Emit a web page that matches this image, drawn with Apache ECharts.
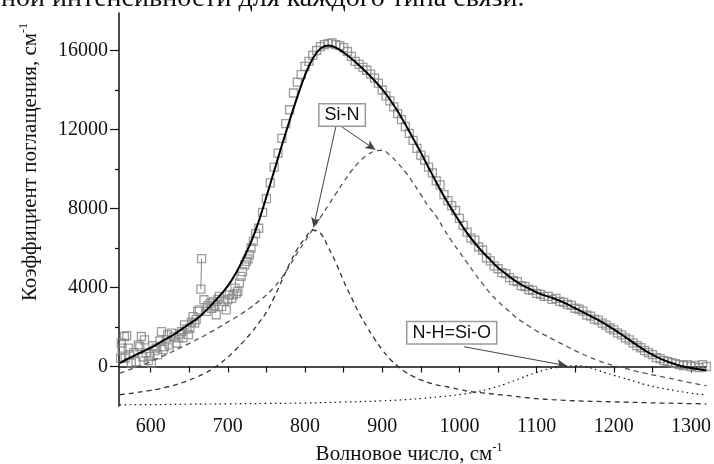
<!DOCTYPE html>
<html><head><meta charset="utf-8">
<script src="https://cdn.jsdelivr.net/npm/echarts@6/dist/echarts.min.js"></script>
<style>html,body{margin:0;padding:0;background:#fff}#c{width:714px;height:464px}</style>
</head><body><div id="c"></div>
<script>
// ---- axis ticks ----
const xLabelVals = [600, 700, 800, 900, 1000, 1100, 1200, 1300];
const xTickVals = [600, 650, 700, 750, 800, 850, 900, 950, 1000, 1050, 1100, 1150, 1200, 1250, 1300];
const yLabelVals = [0, 4000, 8000, 12000, 16000];
const yMinorVals = [2000, 6000, 10000, 14000];

// ---- measured points (open squares) ----
const measX = [561,562,563,566,567,569,571,573,575,578,581,584,586,588,590,592,594,597,599,601,603,605,607,609,612,614,616,618,620,622,624,627,630,633,636,638,640,642,644,647,649,651,653,655,657,659,661,663,665,666,669,672,674,677,679,681,683,685,687,689,692,695,698,700,702,705,707,709,711,713,715,717,719,722,724,726,728,730,733,736,
740,745,750,755,760,765,770,775,780,785,790,795,800,805,810,815,820,825,830,835,840,845,850,855,860,865,870,875,880,885,890,895,900,905,910,915,920,925,930,935,940,945,950,955,960,965,970,975,980,985,990,995,1000,1005,1010,1015,1020,1025,1030,1035,1040,1045,1050,1055,1060,1065,1070,1075,1080,1085,1090,1095,1100,1105,1110,1115,1120,1125,1130,1135,1140,1145,1150,1155,1160,1165,1170,1175,1180,1185,1190,1195,1200,1205,1210,1215,1220,1225,1230,1235,1240,1245,1250,1255,1260,1265,1270,1275,1280,1285,1290,1295,1300,1305,1310,1315,1320];
const measY = [420,1190,930,1520,430,1560,930,600,170,700,250,1100,1010,1520,480,1350,680,300,510,170,1050,800,930,590,1300,1770,850,1010,1350,1600,1100,1690,1500,1190,1450,1650,1770,1450,2110,1900,1610,1950,2250,2530,2200,2370,2790,2870,3920,5460,3380,2790,3080,3200,2950,3290,3100,2620,3400,3550,3040,3300,2870,3380,3630,3450,3630,3970,3700,3800,4230,4560,4800,5150,5320,5450,5660,6000,6340,6730,
7000,7800,8500,9300,10100,10800,11550,12300,13000,13850,14400,14780,15200,15450,15750,16000,16200,16300,16350,16380,16300,16250,16150,15950,15700,15450,15300,15150,15000,14800,14600,14350,14000,13700,13450,13150,12800,12500,12150,11800,11450,11050,10700,10450,10100,9800,9400,9200,8700,8400,8150,7900,7500,7150,6800,6500,6400,6050,5900,5500,5350,5100,4950,4750,4700,4500,4350,4300,4100,4050,3900,3850,3700,3650,3550,3550,3400,3450,3300,3250,3150,3100,2950,2900,2800,2600,2550,2400,2350,2200,2100,1950,1850,1700,1600,1450,1350,1200,1050,950,800,700,600,450,400,300,250,200,150,100,50,100,0,50,-50,100,0];
// spike segment between two consecutive measured points
const spikeX = [665, 666];
const spikeY = [3920, 5460];

// ---- fitted sum curve ----
const fitX = [560,570,580,590,600,610,620,630,640,650,660,670,680,690,700,710,720,730,740,750,760,770,780,790,800,810,820,830,840,850,860,870,880,890,900,910,920,930,940,950,960,970,980,990,1000,1010,1020,1030,1040,1050,1060,1070,1080,1090,1100,1110,1120,1130,1140,1150,1160,1170,1180,1190,1200,1210,1220,1230,1240,1250,1260,1270,1280,1290,1300,1310,1320];
const fitY = [170,380,580,760,950,1170,1400,1620,1880,2150,2420,2770,3170,3600,4080,4700,5450,6300,7350,8600,9900,11200,12450,13650,14750,15600,16100,16250,16150,15900,15600,15250,14880,14480,14030,13520,12920,12250,11550,10830,10080,9330,8620,7960,7350,6750,6250,5800,5400,5000,4700,4400,4150,3950,3750,3600,3480,3330,3150,2950,2750,2550,2350,2120,1880,1620,1350,1080,820,600,400,240,110,0,-80,-140,-200];

// ---- Si-N broad component ----
const siNbX = fitX;
const siNbY = [-340,-200,-50,90,250,420,600,790,980,1170,1370,1570,1790,2020,2260,2480,2730,3000,3310,3620,4020,4500,5100,5750,6350,6950,7550,8150,8750,9350,9900,10350,10700,10900,10950,10700,10300,9850,9300,8700,8100,7600,6950,6350,5800,5250,4700,4200,3700,3300,2950,2600,2300,2050,1800,1600,1400,1200,1000,800,620,450,300,160,50,-50,-150,-250,-340,-420,-500,-580,-660,-750,-830,-900,-970];

// ---- Si-N narrow component ----
const siNnX = [560,570,580,590,600,610,620,630,640,650,660,670,680,690,700,710,720,730,740,750,760,770,780,790,800,810,820,830,840,850,860,870,880,890,900,910,920,930,940,950,960,970,980,990,1000,1010,1020,1030,1040,1050,1060,1070,1080,1090,1100,1120,1140,1160,1180,1200,1220,1240,1260,1280,1300,1320];
const siNnY = [-1430,-1380,-1330,-1270,-1210,-1140,-1050,-950,-830,-690,-530,-350,-130,150,470,850,1250,1700,2200,2750,3500,4350,5200,5950,6500,6900,6750,6050,5250,4330,3500,2700,2020,1400,850,380,20,-280,-500,-680,-820,-930,-1000,-1080,-1160,-1250,-1300,-1340,-1380,-1420,-1460,-1500,-1550,-1590,-1630,-1680,-1720,-1750,-1770,-1790,-1810,-1830,-1850,-1860,-1880,-1890];

// ---- N-H = Si-O component ----
const nhX = [560,600,650,700,750,800,850,900,925,950,975,1000,1020,1040,1060,1080,1100,1110,1120,1130,1140,1150,1160,1170,1180,1190,1200,1210,1220,1230,1240,1250,1260,1270,1280,1290,1300,1310,1320];
const nhY = [-1940,-1930,-1910,-1890,-1870,-1850,-1800,-1740,-1690,-1620,-1530,-1420,-1300,-1120,-880,-580,-300,-180,-80,-10,30,40,10,-70,-200,-330,-450,-560,-670,-790,-910,-1000,-1090,-1160,-1230,-1290,-1350,-1400,-1430];

// ---- annotations ----
const siNText = 'Si-N';
const siNAt = [848, 12740];
const siNArrow1 = [[840, 12150], [811, 7050]];
const siNArrow2 = [[847, 12150], [891, 10980]];
const nhText = 'N-H=Si-O';
const nhAt = [990, 1710];
const nhArrow = [[1006, 1000], [1139, 40]];
const headerText = 'ной интенсивности для каждого типа связи.';

const serif = "'Liberation Serif','Times New Roman',serif";
const sans = "'Liberation Sans',Arial,sans-serif";
const zip = (xs, ys) => xs.map((x, i) => [x, ys[i]]);
const plain = v => String(v);

const chart = echarts.init(document.getElementById('c'), null, {renderer: 'canvas'});
const arrowLine = (seg) => [{coord: seg[0]}, {coord: seg[1]}];

const option = {
  animation: false,
  backgroundColor: '#fff',
  grid: {left: 119, right: 7, top: 13, bottom: 58},
  xAxis: {
    type: 'value', min: 559, max: 1320,
    axisLine: {lineStyle: {color: '#111', width: 1.5}},
    axisTick: {show: true, inside: false, length: 6, lineStyle: {color: '#111', width: 1.2}, customValues: xTickVals},
    axisLabel: {customValues: xLabelVals, formatter: plain, fontFamily: serif, fontSize: 20, color: '#111', margin: 11},
    splitLine: {show: false}
  },
  yAxis: [{
    type: 'value', min: -2000, max: 17900, position: 'left',
    axisLine: {show: true, lineStyle: {color: '#111', width: 1.5}},
    axisTick: {show: true, inside: false, length: 9, lineStyle: {color: '#111', width: 1.2}, customValues: yLabelVals},
    axisLabel: {customValues: yLabelVals, formatter: plain, fontFamily: serif, fontSize: 20, color: '#111', margin: 11},
    splitLine: {show: false}
  }, {
    type: 'value', min: -2000, max: 17900, position: 'left',
    axisLine: {show: false},
    axisTick: {show: true, inside: false, length: 4, lineStyle: {color: '#111', width: 1.2}, customValues: yMinorVals},
    axisLabel: {show: false},
    splitLine: {show: false}
  }],
  series: [
    {
      type: 'scatter', data: zip(measX, measY), symbol: 'rect', symbolSize: 8,
      itemStyle: {color: 'rgba(255,255,255,0)', borderColor: '#858585', borderWidth: 1.3}, z: 2
    },
    {
      type: 'line', data: zip(spikeX, spikeY), showSymbol: false,
      lineStyle: {color: '#858585', width: 1}, z: 2
    },
    {
      type: 'line', data: zip(siNbX, siNbY), showSymbol: false, smooth: 0.4,
      lineStyle: {color: '#555', width: 1.3, type: [5, 4]}, z: 3,
      markLine: {
        silent: true, symbol: ['none', 'arrow'], symbolSize: [7, 10],
        label: {show: false},
        lineStyle: {color: '#444', width: 1, type: 'solid'},
        data: [arrowLine(siNArrow1), arrowLine(siNArrow2), arrowLine(nhArrow)]
      }
    },
    {
      type: 'line', data: zip(siNnX, siNnY), showSymbol: false, smooth: 0.4,
      lineStyle: {color: '#333', width: 1.3, type: [5, 4]}, z: 3
    },
    {
      type: 'line', data: zip(nhX, nhY), showSymbol: false, smooth: 0.4,
      lineStyle: {color: '#111', width: 1.2, type: [1.5, 3.5]}, z: 3
    },
    {
      type: 'line', data: zip(fitX, fitY), showSymbol: false, smooth: 0.4,
      lineStyle: {color: '#000', width: 2}, z: 4
    }
  ]
};
chart.setOption(option);

const p1 = chart.convertToPixel({gridIndex: 0}, siNAt);
const p2 = chart.convertToPixel({gridIndex: 0}, nhAt);
const boxStyle = {
  fontFamily: sans, fontSize: 18, fill: '#111',
  backgroundColor: '#fff', borderColor: '#9a9a9a', borderWidth: 1.5,
  padding: [2, 5, 1, 5], align: 'center', verticalAlign: 'middle'
};
chart.setOption({
  graphic: [
    {type: 'text', z: 50, x: 1, y: -15, style: {text: headerText, fontFamily: serif, fontSize: 28, fill: '#111', align: 'left', verticalAlign: 'top'}},
    {type: 'text', z: 50, x: p1[0], y: p1[1], style: Object.assign({text: siNText}, boxStyle)},
    {type: 'text', z: 50, x: p2[0], y: p2[1], style: Object.assign({text: nhText}, boxStyle)},
    {type: 'text', z: 50, x: 409, y: 454, style: {
      text: '{a|Волновое число, см}{s|-1}', align: 'center', verticalAlign: 'middle',
      rich: {a: {fontFamily: serif, fontSize: 21, fill: '#111', lineHeight: 24}, s: {fontFamily: serif, fontSize: 12, fill: '#111', verticalAlign: 'top', lineHeight: 24}}
    }},
    {type: 'text', z: 50, x: 30, y: 162, rotation: Math.PI / 2, style: {
      text: '{a|Коэффициент поглащения, см}{s|-1}', align: 'center', verticalAlign: 'middle',
      rich: {a: {fontFamily: serif, fontSize: 21, fill: '#111', lineHeight: 24}, s: {fontFamily: serif, fontSize: 12, fill: '#111', verticalAlign: 'top', lineHeight: 24}}
    }}
  ]
});
</script>
</body></html>
